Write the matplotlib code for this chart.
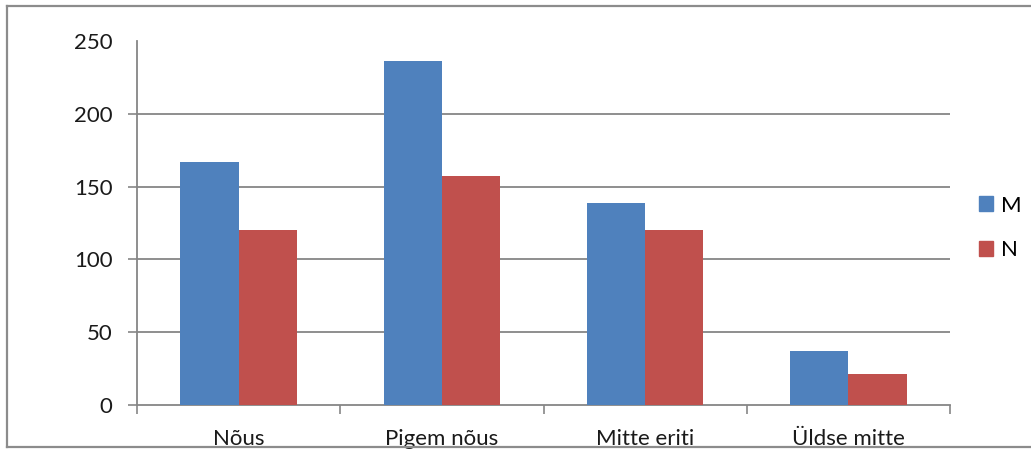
import matplotlib
matplotlib.use("Agg")
import matplotlib.pyplot as plt
import numpy as np
from matplotlib.lines import Line2D

plt.rcParams['font.family'] = ['Lato', 'DejaVu Sans']

categories = ["Nõus", "Pigem nõus", "Mitte eriti", "Üldse mitte"]
series_names = ["M", "N"]
m_values = [167, 236, 139, 37]
n_values = [120, 157, 120, 21]
y_ticks = [0, 50, 100, 150, 200, 250]

blue = "#4F81BD"
red = "#C0504D"
grey = "#868686"
fs = 16

fig = plt.figure(figsize=(10.31, 4.49), dpi=100)
ax = fig.add_axes([137 / 1031, 1 - 405 / 449, (950 - 137) / 1031, (405 - 41) / 449])

x = np.arange(len(categories))
w = 0.286
ax.bar(x - w / 2, m_values, w, color=blue, label=series_names[0], zorder=3)
ax.bar(x + w / 2, n_values, w, color=red, label=series_names[1], zorder=3)

ax.set_xlim(-0.5, len(categories) - 0.5)
ax.set_ylim(0, 250)
ax.set_yticks(y_ticks)
ax.set_yticklabels([str(v) for v in y_ticks], fontsize=fs, color="#1a1a1a")

# category labels under the centres, ticks between the groups
ax.set_xticks(x)
ax.set_xticklabels(categories, fontsize=fs, color="#1a1a1a")
ax.tick_params(axis="x", length=0, pad=17)
ax.set_xticks(np.arange(len(categories) + 1) - 0.5, minor=True)
ax.tick_params(axis="x", which="minor", length=6.5, width=1.2, color=grey, direction="out")
ax.tick_params(axis="y", length=6.5, width=1.2, color=grey, direction="out", pad=11)

for v in y_ticks[1:-1]:
    ax.axhline(v, color=grey, lw=1.3, zorder=1)

ticks = ax.yaxis.get_major_ticks()
ticks[-1].tick1line.set_visible(False)

for side in ["top", "right"]:
    ax.spines[side].set_visible(False)
for side in ["left", "bottom"]:
    ax.spines[side].set_color(grey)
    ax.spines[side].set_linewidth(1.3)

handles = [plt.Rectangle((0, 0), 1, 1, color=blue), plt.Rectangle((0, 0), 1, 1, color=red)]
fig.legend(handles, series_names, loc="center left", bbox_to_anchor=(972 / 1031, 1 - 228 / 449),
           frameon=False, fontsize=fs, handlelength=0.65, handleheight=0.65,
           handletextpad=0.35, labelspacing=1.12, borderaxespad=0, borderpad=0.3)

# outer chart frame
frame_kw = dict(color="#8c8c8c", lw=1.6, transform=fig.transFigure, clip_on=False)
fig.add_artist(Line2D([7 / 1031, 1], [1 - 6 / 449, 1 - 6 / 449], **frame_kw))
fig.add_artist(Line2D([7 / 1031, 7 / 1031], [1 - 6 / 449, 1 - 447 / 449], **frame_kw))
fig.add_artist(Line2D([7 / 1031, 1], [1 - 447 / 449, 1 - 447 / 449], **frame_kw))

fig.savefig("out.png", dpi=100)
